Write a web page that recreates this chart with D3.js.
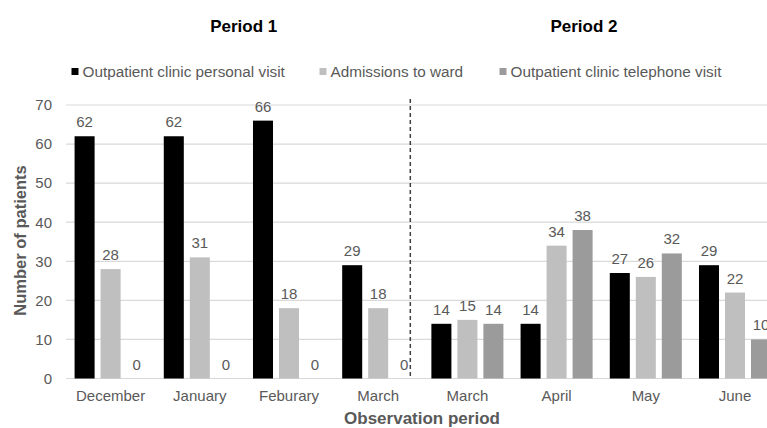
<!DOCTYPE html>
<html><head><meta charset="utf-8">
<script src="https://d3js.org/d3.v7.min.js"></script>
<style>body{margin:0;background:#fff;overflow:hidden}svg{display:block;font-family:"Liberation Sans",Arial,sans-serif}</style>
</head><body>
<svg id="c" width="767" height="428"></svg>
<script>
const categories = ["December","January","Feburary","March","March","April","May","June"];
const seriesNames = ["Outpatient clinic personal visit","Admissions to ward","Outpatient clinic telephone visit"];
const personal = [62,62,66,29,14,14,27,29];
const admissions = [28,31,18,18,15,34,26,22];
const telephone = [0,0,0,0,14,38,32,10];
const yTicks = [0,10,20,30,40,50,60,70];
const periodTitles = ["Period 1","Period 2"];
const colors = ["#000000","#bfbfbf","#9b9b9b"];

(function(){
const svg = d3.select("#c");
const pLeft = 66, pRight = 779.6, pTop = 105, pBottom = 378.5;
const x = d3.scaleBand().domain(d3.range(categories.length)).range([pLeft,pRight]).padding(0);
const xi = d3.scaleBand().domain(d3.range(3)).range([0,x.bandwidth()]).paddingInner(0.23).paddingOuter(0.33);
const y = d3.scaleLinear().domain([0,70]).range([pBottom,pTop]);
const textCol = "#595959";
const fs = "15px";

svg.append("g").selectAll("line").data(yTicks).join("line")
  .attr("x1",pLeft).attr("x2",pRight).attr("y1",d=>y(d)).attr("y2",d=>y(d))
  .attr("stroke","#d9d9d9").attr("stroke-width",1.2);

const yAxis = d3.axisLeft(y).tickValues(yTicks).tickSize(0).tickPadding(14);
const gy = svg.append("g").attr("transform",`translate(${pLeft},0)`).call(yAxis);
gy.select(".domain").remove();
gy.selectAll("text").attr("fill",textCol).style("font-size",fs).style("font-family","Liberation Sans, Arial, sans-serif");

const xAxis = d3.axisBottom(x).tickFormat(i=>categories[i]).tickSize(0).tickPadding(12);
const gx = svg.append("g").attr("transform",`translate(0,${pBottom})`).call(xAxis);
gx.select(".domain").remove();
gx.selectAll("text").attr("fill",textCol).style("font-size",fs).style("font-family","Liberation Sans, Arial, sans-serif");

const series = [personal, admissions, telephone];
series.forEach((vals,s)=>{
  const g = svg.append("g");
  g.selectAll("rect").data(vals).join("rect")
    .attr("x",(d,i)=>x(i)+xi(s)).attr("width",xi.bandwidth())
    .attr("y",d=>y(d)).attr("height",d=>y(0)-y(d))
    .attr("fill",colors[s]);
  g.selectAll("text").data(vals).join("text")
    .attr("x",(d,i)=>x(i)+xi(s)+xi.bandwidth()/2).attr("y",d=>y(d)-9)
    .attr("text-anchor","middle").attr("fill",textCol).style("font-size",fs)
    .text(d=>d);
});

const sepX = x(4) - 0.14*x.step();
svg.append("line").attr("x1",sepX).attr("x2",sepX).attr("y1",pTop-6).attr("y2",pBottom)
  .attr("stroke","#404040").attr("stroke-width",1.5).attr("stroke-dasharray","4,3");

[243.7,584].forEach((cx,i)=>{
  svg.append("text").attr("x",cx).attr("y",31.5).attr("text-anchor","middle")
    .attr("font-weight","bold").style("font-size","17px").attr("fill","#000").text(periodTitles[i]);
});

const legX = [71.5,319.5,499.5];
seriesNames.forEach((n,i)=>{
  svg.append("rect").attr("x",legX[i]).attr("y",68).attr("width",7).attr("height",7).attr("fill",colors[i]);
  svg.append("text").attr("x",legX[i]+11).attr("y",77).attr("fill",textCol).style("font-size","15.3px").text(n);
});

svg.append("text").attr("transform",`translate(26,240.5) rotate(-90)`)
  .attr("text-anchor","middle").attr("font-weight","bold").attr("fill",textCol).style("font-size","16.5px").text("Number of patients");
svg.append("text").attr("x",422).attr("y",424).attr("text-anchor","middle")
  .attr("font-weight","bold").attr("fill",textCol).style("font-size","17px").text("Observation period");
})();
</script>
</body></html>
